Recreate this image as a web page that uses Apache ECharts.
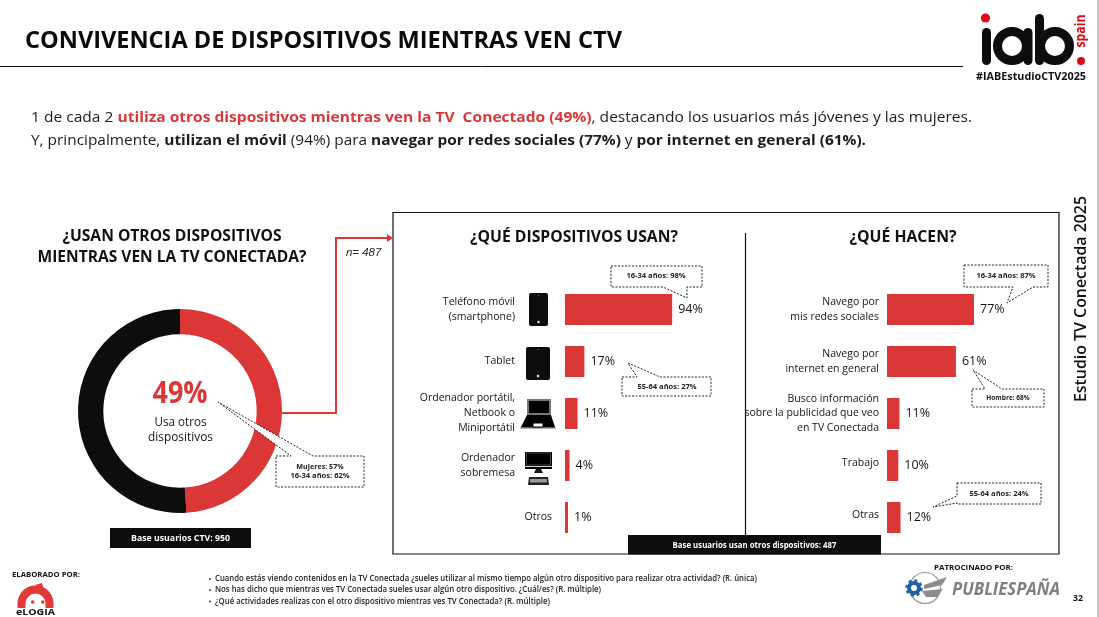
<!DOCTYPE html>
<html><head><meta charset="utf-8">
<script src="https://cdn.jsdelivr.net/npm/echarts@6/dist/echarts.min.js"></script>
<style>html,body{margin:0;padding:0;background:#fff}#c{width:1099px;height:617px}</style>
</head><body><div id="c"></div>
<script>
// ---- data ----
var donutNames = ['Usa otros dispositivos', 'No usa otros dispositivos'];
var donutValues = [49, 51];
var deviceCategories = ['Teléfono móvil\n(smartphone)', 'Tablet', 'Ordenador portátil,\nNetbook o\nMiniportátil', 'Ordenador\nsobremesa', 'Otros'];
var deviceValues = [94, 17, 11, 4, 1];
var activityCategories = ['Navego por\nmis redes sociales', 'Navego por\ninternet en general', 'Busco información\nsobre la publicidad que veo\nen TV Conectada', 'Trabajo', 'Otras'];
var activityValues = [77, 61, 11, 10, 12];

var RED = '#dc3737', BLACK = '#0d0d0d', INK = '#141414';
var FONT = '"Open Sans", sans-serif';
var cv = document.createElement('canvas').getContext('2d');
function measure(s, size, weight, style) {
  cv.font = (style || 'normal') + ' ' + (weight || 'normal') + ' ' + size + 'px "Open Sans"';
  return cv.measureText(s).width;
}
var G = [];
function T(x, y, s, o) {
  o = o || {};
  var size = o.size || 11, weight = o.weight || 'normal';
  var sx = o.w ? o.w / measure(s, size, weight, o.style) : 1;
  G.push({type: 'text', x: x, y: y, scaleX: sx, rotation: o.rot || 0, z: o.z || 60, silent: true,
    style: {text: s, x: 0, y: 0, fill: o.color || INK, font: (o.style || 'normal') + ' ' + weight + ' ' + size + 'px ' + (o.family || FONT),
      align: o.align || 'left', verticalAlign: 'middle'}});
}
function R(x, y, w, h, o) {
  o = o || {};
  G.push({type: 'rect', silent: true, z: o.z || 50, shape: {x: x, y: y, width: w, height: h, r: o.r || 0},
    style: {fill: o.fill === undefined ? BLACK : o.fill, stroke: o.stroke || null, lineWidth: o.lw || 1}});
}
function C(cx, cy, r, o) {
  o = o || {};
  G.push({type: 'circle', silent: true, z: o.z || 55, shape: {cx: cx, cy: cy, r: r},
    style: {fill: o.fill === undefined ? BLACK : o.fill, stroke: o.stroke || null, lineWidth: o.lw || 1, lineDash: o.dash || null}});
}
function PL(pts, color, lw, z) {
  G.push({type: 'polyline', silent: true, z: z || 50, shape: {points: pts}, style: {stroke: color, lineWidth: lw, fill: null}});
}
function PG(pts, o) {
  o = o || {};
  G.push({type: 'polygon', silent: true, z: o.z || 50, shape: {points: pts},
    style: {fill: o.fill === undefined ? BLACK : o.fill, stroke: o.stroke || null, lineWidth: o.lw || 1, lineDash: o.dash || null}});
}
function callout(pts, tx, ty, lines) {
  PG(pts, {fill: '#fff', stroke: '#222', lw: 1, dash: [2, 1.5], z: 40});
  lines.forEach(function (l, i) {
    T(tx, ty + (i - (lines.length - 1) / 2) * 9, l, {size: 6.5, weight: 700, align: 'center', color: '#222', w: l.length * 3.95});
  });
}

// header
T(25, 41, 'CONVIVENCIA DE DISPOSITIVOS MIENTRAS VEN CTV', {size: 24, weight: 700, w: 597, color: '#0a0a0a'});
PL([[0, 66.5], [963, 66.5]], '#111', 1);
R(1097, 0, 2, 617, {fill: '#c4c4c4'});

// body text with mixed styles
function richLine(y, parts, targetW) {
  var total = 0, str = '', rich = {};
  parts.forEach(function (p, i) {
    total += measure(p[0], 15, p[1] ? 700 : 400);
    rich['s' + i] = {font: (p[1] ? '700' : '400') + ' 15px ' + FONT, fill: p[2] || '#1c1c1c'};
    str += '{s' + i + '|' + p[0] + '}';
  });
  G.push({type: 'text', x: 31, y: y, scaleX: targetW / total, silent: true, z: 60,
    style: {text: str, x: 0, y: 0, rich: rich, align: 'left', verticalAlign: 'middle'}});
}
richLine(117.5, [['1 de cada 2 ', 0], ['utiliza otros dispositivos mientras ven la TV  Conectado (49%)', 1, RED], [', destacando los usuarios más jóvenes y las mujeres.', 0]], 941);
richLine(140.5, [['Y, principalmente, ', 0], ['utilizan el móvil ', 1], ['(94%) para ', 0], ['navegar por redes sociales (77%) ', 1], ['y ', 0], ['por internet en general (61%).', 1]], 835);

// iab logo
C(985.5, 18, 4.6, {fill: '#e30613'});
R(982, 28, 9, 37, {r: 4.5});
C(1012, 46, 14.5, {fill: '#fff', stroke: BLACK, lw: 9});
R(1023.5, 28, 9, 37, {r: 4.5});
C(1055, 46, 14.5, {fill: '#fff', stroke: BLACK, lw: 9});
R(1035, 14, 9, 51, {r: 4.5});
C(1081, 61, 4, {fill: '#e30613'});
T(1081, 31, 'spain', {size: 14, weight: 700, color: '#e30613', rot: Math.PI / 2, align: 'center', w: 33});
T(976, 77, '#IABEstudioCTV2025', {size: 10.5, weight: 700, w: 110, color: '#111'});

// left panel
T(172, 237, '¿USAN OTROS DISPOSITIVOS', {size: 15.5, weight: 700, align: 'center', w: 219, color: '#111'});
T(172, 258, 'MIENTRAS VEN LA TV CONECTADA?', {size: 15.5, weight: 700, align: 'center', w: 269, color: '#111'});
T(180, 394, '49%', {size: 31, weight: 700, align: 'center', color: RED, w: 55});
T(180.5, 422, 'Usa otros', {size: 12.5, align: 'center', w: 52});
T(180.5, 437.5, 'dispositivos', {size: 12.5, align: 'center', w: 65});
callout([[276, 456], [291, 456], [218, 402], [313, 456], [364, 456], [364, 487], [276, 487]], 320, 471.5, ['Mujeres: 57%', '16-34 años: 62%']);
R(110, 528, 141, 20);
T(180.5, 538, 'Base usuarios CTV: 950', {size: 9, weight: 700, color: '#fff', align: 'center', w: 99});

// connector
PL([[282, 413], [336, 413], [336, 238], [387, 238]], RED, 2, 30);
PG([[387, 234], [393, 238], [387, 242]], {fill: RED, z: 30});
T(346, 253, 'n= 487', {size: 10.5, style: 'italic', family: '"Liberation Sans", sans-serif', w: 35, color: '#222'});

// frame
R(393, 212.5, 666, 341.5, {fill: null, stroke: '#111', lw: 1.2, z: 20});
PL([[745.5, 233], [745.5, 535]], '#111', 1.2, 21);
R(628, 535, 253, 19.5);
T(754.5, 545, 'Base usuarios usan otros dispositivos: 487', {size: 9, weight: 700, color: '#fff', align: 'center', w: 164});
T(574, 238, '¿QUÉ DISPOSITIVOS USAN?', {size: 15.5, weight: 700, align: 'center', w: 208, color: '#111'});
T(903, 238, '¿QUÉ HACEN?', {size: 15.5, weight: 700, align: 'center', w: 107, color: '#111'});

// callouts for bars
callout([[611, 266], [702, 266], [702, 287], [687, 287], [687, 298], [663, 287], [611, 287]], 656, 276, ['16-34 años: 98%']);
callout([[622, 377], [637, 377], [628, 363], [660, 377], [711, 377], [711, 396], [622, 396]], 667, 387, ['55-64 años: 27%']);
callout([[964, 265], [1048, 265], [1048, 287], [1033, 287], [1007, 303], [1013, 287], [964, 287]], 1006, 276, ['16-34 años: 87%']);
callout([[972, 389], [985, 389], [973, 370], [1002, 389], [1044, 389], [1044, 407], [972, 407]], 1008, 398, ['Hombre: 68%']);
callout([[957, 483], [1041, 483], [1041, 504], [957, 504], [957, 503], [933, 507], [957, 496]], 999, 494, ['55-64 años: 24%']);

// device icons
R(529, 293, 19, 33, {r: 2});
C(538.5, 322, 1.3, {fill: '#ddd'}); C(538.5, 295.5, 0.5, {fill: '#aaa'});
R(526, 347, 24, 33, {r: 2});
C(538, 376, 1.3, {fill: '#ddd'}); C(538, 349.5, 0.5, {fill: '#aaa'});
R(527, 399, 24, 16, {fill: '#777'});
R(529, 401, 20, 12, {fill: '#000'});
PG([[527, 415], [551, 415], [555, 427], [521, 427]], {fill: '#000'});
R(520.5, 427, 35, 1.5, {fill: '#666'});
R(533, 423, 10, 4, {fill: '#fff', stroke: '#000', lw: 1});
R(525, 452, 27, 17, {fill: '#000'});
R(525, 466, 27, 1, {fill: '#ccc', z: 52});
R(526.5, 453, 24, 12, {fill: '#000', stroke: '#777', lw: 0.6, z: 51});
PG([[536, 469], [541, 469], [543, 473], [534, 473]], {fill: '#111'});
PG([[529, 477], [548, 477], [549, 485], [528, 485]], {fill: '#222'});
R(530, 479, 17, 3.5, {fill: '#999', z: 52});

// footer
T(12, 575, 'ELABORADO POR:', {size: 7.5, weight: 700, w: 68, color: '#111'});
G.push({type: 'sector', silent: true, z: 50, shape: {cx: 35.5, cy: 603.5, r0: 10, r: 18, startAngle: Math.PI, endAngle: 0, clockwise: true}, style: {fill: '#df3a37'}});
R(17.5, 603, 8, 5, {fill: '#df3a37'});
R(45.5, 603, 8, 5, {fill: '#df3a37'});
PG([[35, 585], [42, 583], [44, 590]], {fill: '#df3a37'});
C(32.7, 602, 1.8, {fill: '#df3a37'}); C(42.7, 602, 1.8, {fill: '#df3a37'});
T(35.5, 612.5, 'eLOGIA', {size: 9.5, weight: 700, align: 'center', w: 39, color: '#111'});

var notes = ['Cuando estás viendo contenidos en la TV Conectada ¿sueles utilizar al mismo tiempo algún otro dispositivo para realizar otra actividad? (R. única)',
  'Nos has dicho que mientras ves TV Conectada sueles usar algún otro dispositivo. ¿Cuál/es? (R. múltiple)',
  '¿Qué actividades realizas con el otro dispositivo mientras ves TV Conectada? (R. múltiple)'];
var noteW = [542, 386, 335], noteY = [579, 590, 601.5];
notes.forEach(function (n, i) {
  C(210, noteY[i], 0.9, {fill: '#333'});
  T(215, noteY[i], n, {size: 8, weight: 600, w: noteW[i], color: '#222'});
});
T(934, 568, 'PATROCINADO POR:', {size: 7.5, weight: 700, w: 79, color: '#111'});
T(1073, 599, '32', {size: 8, weight: 700, w: 10, color: '#111'});
T(952, 590, 'PUBLIESPAÑA', {size: 18, weight: 700, style: 'italic', w: 108, color: '#7f7f7f'});
C(925, 588, 15.5, {fill: '#fff', stroke: '#999', lw: 1.2, z: 50});
PG([[924, 585], [947, 577], [942, 585], [924, 589]], {fill: '#8c8c8c', z: 51});
PG([[922, 591], [943, 589], [937, 597], [926, 597]], {fill: '#8c8c8c', z: 51});
C(914, 588, 5, {fill: '#fff', stroke: '#1f5fa6', lw: 4, z: 52});
C(914, 588, 7.5, {fill: null, stroke: '#1f5fa6', lw: 2.5, dash: [3, 2.9], z: 52});

// vertical side text
T(1081, 299, 'Estudio TV Conectada 2025', {size: 16, weight: 600, rot: Math.PI / 2, align: 'center', w: 206, color: '#111'});

// category label rich text for the left chart: "Otros" sits nearer the bar than the others
function devLabel(v) {
  var cls = v === 'Otros' ? 'near' : 'far';
  return v.split('\n').map(function (l) { return '{' + cls + '|' + l + '}'; }).join('\n');
}
function actLabel(v) {
  var cls = (v === 'Trabajo' || v === 'Otras') ? 'up' : 'n';
  return v.split('\n').map(function (l) { return '{' + cls + '|' + l + '}'; }).join('\n');
}
var LS = {fontFamily: FONT, fontSize: 10.5, color: INK};
function barSeries(i, vals) {
  return {type: 'bar', xAxisIndex: i, yAxisIndex: i, data: vals, barWidth: 31, barMinHeight: 3, silent: true,
    itemStyle: {color: RED},
    label: {show: true, position: 'right', distance: 6, formatter: '{c}%', fontFamily: FONT, fontSize: 12.5, color: INK}};
}

var chart = echarts.init(document.getElementById('c'), null, {renderer: 'canvas'});
chart.setOption({
  animation: false,
  backgroundColor: '#fff',
  grid: [
    {left: 565, top: 283.5, width: 114, height: 260, containLabel: false},
    {left: 887, top: 283.5, width: 113, height: 260, containLabel: false}
  ],
  xAxis: [
    {gridIndex: 0, type: 'value', min: 0, max: 100, show: false},
    {gridIndex: 1, type: 'value', min: 0, max: 100, show: false}
  ],
  yAxis: [
    {gridIndex: 0, type: 'category', inverse: true, data: deviceCategories,
      axisLine: {show: false}, axisTick: {show: false},
      axisLabel: {interval: 0, margin: 13, align: 'right', formatter: devLabel,
        rich: {far: Object.assign({lineHeight: 15, padding: [0, 37, 0, 0]}, LS),
               near: Object.assign({lineHeight: 15}, LS)}}},
    {gridIndex: 1, type: 'category', inverse: true, data: activityCategories,
      axisLine: {show: false}, axisTick: {show: false},
      axisLabel: {interval: 0, margin: 8, align: 'right', formatter: actLabel,
        rich: {n: Object.assign({lineHeight: 14.5}, LS),
               up: Object.assign({lineHeight: 14.5, padding: [0, 0, 5, 0]}, LS)}}}
  ],
  series: [
    {type: 'pie', center: [180, 411], radius: [76.7, 102], startAngle: 90, silent: true,
      label: {show: false}, labelLine: {show: false},
      data: donutNames.map(function (n, i) {
        return {name: n, value: donutValues[i], itemStyle: {color: i === 0 ? RED : BLACK}};
      })},
    barSeries(0, deviceValues),
    barSeries(1, activityValues)
  ],
  graphic: {elements: G}
});
</script></body></html>
